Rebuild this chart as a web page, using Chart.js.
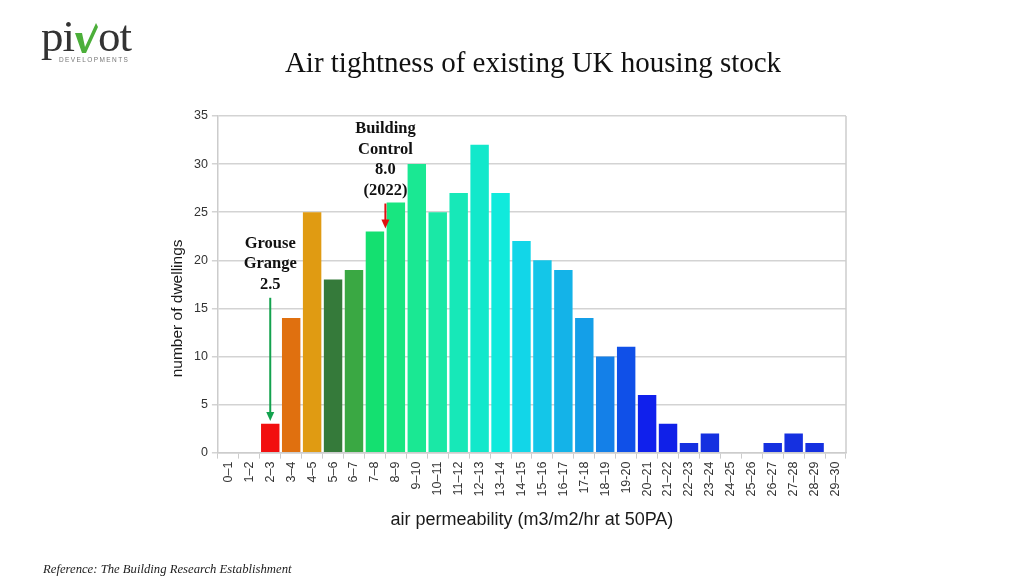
<!DOCTYPE html>
<html>
<head>
<meta charset="utf-8">
<script src="https://cdn.jsdelivr.net/npm/chart.js@4/dist/chart.umd.min.js"></script>
<style>
  html, body { margin: 0; padding: 0; background: #fff; }
  #wrap { position: relative; width: 1024px; height: 576px; overflow: hidden; }
  #chart { position: absolute; left: 0; top: 0; }
  .title { position: absolute; left: 0; width: 1066px; top: 46px; text-align: center;
    font-family: "Liberation Serif", serif; font-size: 29px; color: #111; }
  .footer { position: absolute; left: 43px; top: 562px; font-family: "Liberation Serif", serif;
    font-style: italic; font-size: 12.7px; color: #222; }
  .logo { position: absolute; left: 41px; top: 10px; font-family: "Liberation Serif", serif;
    font-size: 45px; color: #333; letter-spacing: -1px; }
  .logo .v { display: inline-block; width: 24px; height: 30px; vertical-align: -2px; }
  .logo .sub { position: absolute; left: 18px; top: 46px; font-family: "Liberation Sans", sans-serif;
    font-size: 6.5px; letter-spacing: 1.4px; color: #777; white-space: nowrap; }
</style>
</head>
<body>
<div id="wrap">
  <canvas id="chart" width="1024" height="576"></canvas>
  <div class="logo">pi<svg class="v" viewBox="0 0 24 30"><polygon points="1,10 8,10 11,24 22,0 24,4 12,30 8,30" fill="#4caf3a"/></svg>ot<div class="sub">DEVELOPMENTS</div></div>
  <div class="title">Air tightness of existing UK housing stock</div>
  <div class="footer">Reference: The Building Research Establishment</div>
</div>
<script>
const categories = ["0–1","1–2","2–3","3–4","4–5","5–6","6–7","7–8","8–9","9–10",
  "10–11","11–12","12–13","13–14","14–15","15–16","16–17","17-18","18–19","19-20",
  "20–21","21–22","22–23","23–24","24–25","25–26","26–27","27–28","28–29","29–30"];
const dwellings = [0,0,3,14,25,18,19,23,26,30,25,27,32,27,22,20,19,14,10,11,6,3,1,2,0,0,1,2,1,0];
const barColors = ["#f20f0f","#f20f0f","#f20f0f","#e0700f","#e09b12","#357a3a","#3aa843","#14e070",
  "#18e680","#1ae893","#1ae8a6","#17e8b8","#12e8cb","#10eadc","#12d6e8","#14c6e8",
  "#14b3e8","#149fe8","#1480e8","#1050e8","#1020ec","#1020e8","#1530e0","#1530e0",
  "#1530e0","#1530e0","#1530e0","#1530e0","#1530e0","#1530e0"];
const yTicks = [0,5,10,15,20,25,30,35];
const yTitle = "number of dwellings";

// annotations: air permeability value, label lines, arrow start/end (dwellings)
const grouseValue = 2.5;
const grouseLines = ["Grouse","Grange","2.5"];
const grouseArrow = [16.1, 3.3];
const controlValue = 8.0;
const controlLines = ["Building","Control","8.0","(2022)"];
const controlArrow = [25.9, 23.3];

const arrowPlugin = {
  id: "arrows",
  afterDatasetsDraw(chart) {
    const { ctx, chartArea, scales: { x, y } } = chart;
    ctx.save();
    // right border of the plot
    ctx.strokeStyle = "#cccccc";
    ctx.lineWidth = 1.5;
    ctx.beginPath();
    ctx.moveTo(chartArea.right, chartArea.top);
    ctx.lineTo(chartArea.right, chartArea.bottom);
    ctx.stroke();

    // y axis title, sits a little below centre like the original
    ctx.save();
    ctx.translate(chartArea.left - 40, y.getPixelForValue(15));
    ctx.rotate(-Math.PI / 2);
    ctx.fillStyle = "#1a1a1a";
    ctx.font = "15.5px 'Liberation Sans', Arial, sans-serif";
    ctx.textAlign = "center";
    ctx.textBaseline = "middle";
    ctx.fillText(yTitle, 0, 0);
    ctx.restore();

    const drawNote = (value, lines, arrow, color) => {
      const px = x.getPixelForValue(value - 0.5);
      const y0 = y.getPixelForValue(arrow[0]);
      const y1 = y.getPixelForValue(arrow[1]);
      ctx.strokeStyle = color;
      ctx.fillStyle = color;
      ctx.lineWidth = 2;
      ctx.beginPath();
      ctx.moveTo(px, y0);
      ctx.lineTo(px, y1 - 7);
      ctx.stroke();
      ctx.beginPath();
      ctx.moveTo(px - 4, y1 - 9);
      ctx.lineTo(px + 4, y1 - 9);
      ctx.lineTo(px, y1);
      ctx.closePath();
      ctx.fill();
      ctx.fillStyle = "#111";
      ctx.font = "bold 16.5px 'Liberation Serif', serif";
      ctx.textAlign = "center";
      ctx.textBaseline = "alphabetic";
      lines.forEach((t, i) => {
        ctx.fillText(t, px, y0 - 9 - (lines.length - 1 - i) * 20.5);
      });
    };
    drawNote(grouseValue, grouseLines, grouseArrow, "#13a24e");
    drawNote(controlValue, controlLines, controlArrow, "#e01010");
    ctx.restore();
  }
};

new Chart(document.getElementById("chart"), {
  type: "bar",
  data: {
    labels: categories,
    datasets: [{
      data: dwellings,
      backgroundColor: barColors,
      borderWidth: 0,
      barPercentage: 0.88,
      categoryPercentage: 1
    }]
  },
  options: {
    responsive: false,
    animation: false,
    layout: { padding: { left: 190, right: 178, top: 116, bottom: 41 } },
    plugins: { legend: { display: false }, tooltip: { enabled: false } },
    scales: {
      x: {
        grid: { offset: true, drawOnChartArea: false, color: "#cccccc", tickLength: 6 },
        border: { color: "#cccccc", width: 1.5 },
        ticks: { color: "#333", minRotation: 90, maxRotation: 90, autoSkip: false,
          font: { family: "'Liberation Sans', Arial, sans-serif", size: 12.5 } },
        title: { display: true, text: "air permeability (m3/m2/hr at 50PA)", color: "#1a1a1a",
          font: { family: "'Liberation Sans', Arial, sans-serif", size: 18 }, padding: { top: 10 } }
      },
      y: {
        min: 0, max: 35,
        afterBuildTicks: (axis) => { axis.ticks = yTicks.map(v => ({ value: v })); },
        grid: { color: "#d3d3d3", lineWidth: 1.5, tickLength: 6 },
        border: { color: "#cccccc", width: 1.5 },
        ticks: { color: "#333", padding: 4,
          font: { family: "'Liberation Sans', Arial, sans-serif", size: 12.5 } }
      }
    }
  },
  plugins: [arrowPlugin]
});
</script>
</body>
</html>
